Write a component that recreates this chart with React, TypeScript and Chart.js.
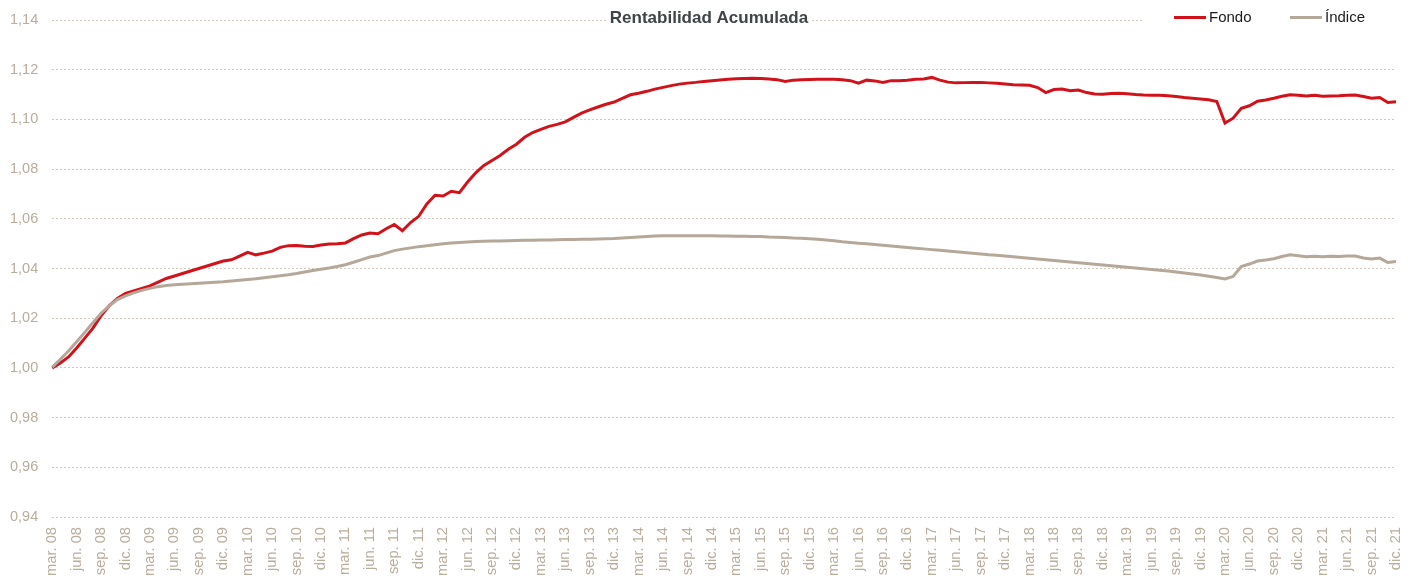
import React, { useEffect, useRef } from "react";
import { Chart, registerables } from "chart.js";

Chart.register(...registerables);

const MONTHS = ["ene.", "feb.", "mar.", "abr.", "may.", "jun.", "jul.", "ago.", "sep.", "oct.", "nov.", "dic."];
const QUARTER_MONTHS = ["mar.", "jun.", "sep.", "dic."];
const START_YEAR = 2008;
const START_MONTH = 2; // marzo

const Y_MIN = 0.94;
const Y_MAX = 1.14;
const Y_STEP = 0.02;

const TITLE = "Rentabilidad Acumulada";
const SERIES_NAMES = ["Fondo", "Índice"];

// Monthly values, mar. 08 .. dic. 21
const FONDO = [
  1.000, 1.002, 1.0044, 1.008, 1.012, 1.016, 1.021, 1.025, 1.028, 1.030,
  1.031, 1.032, 1.033, 1.0345, 1.036, 1.037, 1.038, 1.039, 1.040, 1.041,
  1.042, 1.043, 1.0435, 1.045, 1.0465, 1.0455, 1.0462, 1.047, 1.0485, 1.0492,
  1.0493, 1.049, 1.0489, 1.0495, 1.0499, 1.050, 1.0503, 1.052, 1.0535, 1.0543,
  1.054, 1.056, 1.0577, 1.0552, 1.0585, 1.061, 1.066, 1.0695, 1.0692, 1.0711,
  1.0705, 1.0748, 1.0785, 1.0815, 1.0835, 1.0855, 1.088, 1.090, 1.0928, 1.0947,
  1.096, 1.0972, 1.098, 1.099, 1.1008, 1.1025, 1.1038, 1.105, 1.1061, 1.107,
  1.1085, 1.1099, 1.1105, 1.1113, 1.1122, 1.1129, 1.1136, 1.1142, 1.1146, 1.1149,
  1.1153, 1.1156, 1.1159, 1.1162, 1.1164, 1.1165, 1.1166, 1.1165, 1.1163, 1.116,
  1.1153, 1.1158, 1.116, 1.1161, 1.1162, 1.1162, 1.1162, 1.116, 1.1156, 1.1146,
  1.1158, 1.1155, 1.1149, 1.1156, 1.1156, 1.1158, 1.1162, 1.1163, 1.1169, 1.1158,
  1.115, 1.1147, 1.1148, 1.1149, 1.1149, 1.1147, 1.1145, 1.1142, 1.1139, 1.1138,
  1.1137, 1.1128, 1.1108, 1.112, 1.1122, 1.1115, 1.1118, 1.1108, 1.1102, 1.1101,
  1.1104, 1.1105, 1.1103, 1.110, 1.1098, 1.1097, 1.1097, 1.1095, 1.1092, 1.1088,
  1.1085, 1.1082, 1.1079, 1.1072, 1.0985, 1.1005, 1.1045, 1.1055, 1.1073, 1.1078,
  1.1085, 1.1093, 1.1099, 1.1097, 1.1094, 1.1097, 1.1093, 1.1094, 1.1095, 1.1097,
  1.1098, 1.1092, 1.1085, 1.1088, 1.1068, 1.1071,
];

const INDICE = [
  1.0003, 1.0035, 1.0068, 1.0105, 1.0143, 1.0182, 1.022, 1.025, 1.0275, 1.029,
  1.0302, 1.0312, 1.032, 1.0327, 1.0332, 1.0335, 1.0337, 1.0339, 1.0341, 1.0343,
  1.0345, 1.0347, 1.035, 1.0353, 1.0356, 1.0359, 1.0363, 1.0367, 1.0371, 1.0375,
  1.038, 1.0386, 1.0392, 1.0397, 1.0402, 1.0408, 1.0415, 1.0425, 1.0436, 1.0446,
  1.0452, 1.0462, 1.0472, 1.0478, 1.0483, 1.0488, 1.0492, 1.0496, 1.050, 1.0503,
  1.0505, 1.0507, 1.0509, 1.051, 1.0511, 1.0511, 1.0512, 1.0513, 1.0514, 1.0514,
  1.0515, 1.0515, 1.0516, 1.0517, 1.0517, 1.0518, 1.0518, 1.0519, 1.052, 1.0521,
  1.0523, 1.0525, 1.0527, 1.0529, 1.0531, 1.0532, 1.0532, 1.0532, 1.0532, 1.0532,
  1.0532, 1.0532, 1.0531, 1.0531, 1.053, 1.053, 1.0529, 1.0529, 1.0527, 1.0526,
  1.0525, 1.0523, 1.0522, 1.052, 1.0518, 1.0515, 1.0512, 1.0508, 1.0505, 1.0502,
  1.050, 1.0497, 1.0494, 1.0491, 1.0488, 1.0485, 1.0482, 1.0479, 1.0476, 1.0473,
  1.047, 1.0467, 1.0464, 1.0461, 1.0458, 1.0455, 1.0453, 1.045, 1.0447, 1.0444,
  1.0441, 1.0438, 1.0435, 1.0432, 1.0429, 1.0426, 1.0423, 1.042, 1.0417, 1.0414,
  1.0411, 1.0408, 1.0405, 1.0402, 1.0399, 1.0396, 1.0393, 1.039, 1.0386, 1.0382,
  1.0378, 1.0374, 1.0369, 1.0364, 1.0358, 1.0368, 1.0408, 1.0418, 1.043, 1.0434,
  1.0439, 1.0448, 1.0455, 1.0451, 1.0447, 1.0449, 1.0447, 1.0449, 1.0448, 1.045,
  1.045, 1.0442, 1.0438, 1.0442, 1.0424, 1.0428,
];

const LABELS = FONDO.map((_, i) => {
  const k = START_MONTH + i;
  const yr = START_YEAR + Math.floor(k / 12);
  return `${MONTHS[k % 12]} ${String(yr % 100).padStart(2, "0")}`;
});

const RED = "#d1121b";
const TAN = "#b5a899";
const TICK_COLOR = "#b9ad9c";
const FONT = '"Liberation Sans", Arial, sans-serif';

const overlayPlugin = {
  id: "titleLegendOverlay",
  afterDraw(chart: any) {
    const ctx = chart.ctx;
    ctx.save();
    // Title with white background
    ctx.font = `bold 17px ${FONT}`;
    const tw = ctx.measureText(TITLE).width;
    const cx = chart.width / 2 + 3;
    ctx.fillStyle = "#ffffff";
    ctx.fillRect(cx - tw / 2 - 3, 0, tw + 6, 22);
    ctx.fillStyle = "#3f4448";
    ctx.textAlign = "center";
    ctx.textBaseline = "middle";
    ctx.fillText(TITLE, cx, 10);

    // Legend
    const lx = chart.width - 261;
    ctx.fillStyle = "#ffffff";
    ctx.fillRect(lx, 0, chart.width - lx, 22);
    const items = [
      { name: SERIES_NAMES[0], color: RED, x: chart.width - 230 },
      { name: SERIES_NAMES[1], color: TAN, x: chart.width - 114 },
    ];
    ctx.font = `15px ${FONT}`;
    ctx.textAlign = "left";
    for (const it of items) {
      ctx.strokeStyle = it.color;
      ctx.lineWidth = 3;
      ctx.beginPath();
      ctx.moveTo(it.x, 9.5);
      ctx.lineTo(it.x + 32, 9.5);
      ctx.stroke();
      ctx.fillStyle = "#1a1a1a";
      ctx.fillText(it.name, it.x + 35, 10);
    }
    ctx.restore();
  },
};

export default function App() {
  const ref = useRef<HTMLCanvasElement | null>(null);

  useEffect(() => {
    if (!ref.current) return;
    const chart = new Chart(ref.current, {
      type: "line",
      data: {
        labels: LABELS,
        datasets: [
          {
            label: SERIES_NAMES[1],
            data: INDICE,
            borderColor: TAN,
            borderWidth: 3,
            pointRadius: 0,
            tension: 0,
            fill: false,
          },
          {
            label: SERIES_NAMES[0],
            data: FONDO,
            borderColor: RED,
            borderWidth: 3,
            pointRadius: 0,
            tension: 0,
            fill: false,
          },
        ],
      },
      options: {
        animation: false,
        responsive: true,
        maintainAspectRatio: false,
        layout: { padding: { top: 12, left: -12, right: 8, bottom: 2 } },
        plugins: {
          legend: { display: false },
          title: { display: false },
          tooltip: { enabled: false },
        },
        scales: {
          x: {
            type: "category",
            offset: false,
            grid: { display: false },
            border: { display: false },
            afterFit: (s: any) => {
              s.paddingLeft = 0;
              s.paddingRight = 0;
            },
            ticks: {
              autoSkip: false,
              minRotation: 90,
              maxRotation: 90,
              padding: 2,
              color: TICK_COLOR,
              font: { family: FONT, size: 14.7 },
              callback: (_v: any, i: number) => {
                const lab = LABELS[i];
                return QUARTER_MONTHS.includes(lab.split(" ")[0]) ? lab : "";
              },
            },
          },
          y: {
            min: Y_MIN,
            max: Y_MAX,
            border: { display: false, dash: [2, 2] },
            grid: {
              color: "rgba(196,184,168,0.75)",
              lineWidth: 1,
              drawTicks: false,
            },
            afterFit: (s: any) => {
              s.paddingTop = 0;
              s.paddingBottom = 0;
            },
            ticks: {
              stepSize: Y_STEP,
              padding: 14,
              color: TICK_COLOR,
              font: { family: FONT, size: 14.5 },
              callback: (v: any) => Number(v).toFixed(2).replace(".", ","),
            },
          },
        },
      },
      plugins: [overlayPlugin],
    });
    return () => chart.destroy();
  }, []);

  return (
    <div style={{ position: "relative", width: 1396, height: 572 }}>
      <canvas ref={ref} />
    </div>
  );
}
